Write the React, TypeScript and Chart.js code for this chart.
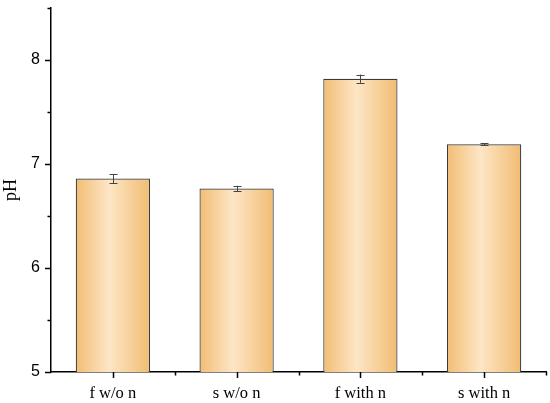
import React, { useEffect, useRef } from "react";
import { Chart, registerables } from "chart.js";

Chart.register(...registerables);

const categories = ["f w/o n", "s w/o n", "f with n", "s with n"];
const phValues = [6.86, 6.765, 7.82, 7.19];
const phErrors = [0.045, 0.025, 0.04, 0.01];
const yTicks = [5, 6, 7, 8];

const BAR_PCT = 0.6;

const tickPlugin = {
  id: "customTicks",
  afterDraw(chart: any) {
    const ctx = chart.ctx;
    const x = chart.scales.x;
    const y = chart.scales.y;
    const area = chart.chartArea;
    ctx.save();
    ctx.strokeStyle = "#000";
    ctx.lineWidth = 1.5;
    ctx.beginPath();
    for (let v = 5; v <= 8.5 + 1e-9; v += 0.5) {
      const py = Math.round(y.getPixelForValue(v)) + 0.5;
      const major = Math.abs(v - Math.round(v)) < 1e-6;
      const len = major ? 6 : 3.5;
      ctx.moveTo(area.left, py);
      ctx.lineTo(area.left - len, py);
    }
    const n = categories.length;
    for (let i = 0; i < n; i++) {
      const px = Math.round(x.getPixelForValue(i)) + 0.5;
      ctx.moveTo(px, area.bottom);
      ctx.lineTo(px, area.bottom + 6);
    }
    for (let i = 1; i <= n; i++) {
      const px = Math.round(x.getPixelForValue(i - 0.5)) + 0.5;
      ctx.moveTo(px, area.bottom);
      ctx.lineTo(px, area.bottom + 3.5);
    }
    ctx.stroke();
    ctx.restore();
  },
};

const errorPlugin = {
  id: "errorBars",
  afterDatasetsDraw(chart: any) {
    const ctx = chart.ctx;
    const x = chart.scales.x;
    const y = chart.scales.y;
    ctx.save();
    ctx.strokeStyle = "#444";
    ctx.lineWidth = 1;
    phValues.forEach((v, i) => {
      const px = Math.round(x.getPixelForValue(i)) + 0.5;
      const top = y.getPixelForValue(v + phErrors[i]);
      const bot = y.getPixelForValue(v - phErrors[i]);
      const cap = 4;
      ctx.beginPath();
      ctx.moveTo(px, top);
      ctx.lineTo(px, bot);
      ctx.moveTo(px - cap, Math.round(top) + 0.5);
      ctx.lineTo(px + cap, Math.round(top) + 0.5);
      ctx.moveTo(px - cap, Math.round(bot) + 0.5);
      ctx.lineTo(px + cap, Math.round(bot) + 0.5);
      ctx.stroke();
    });
    ctx.restore();
  },
};

export default function App() {
  const ref = useRef<HTMLCanvasElement | null>(null);

  useEffect(() => {
    document.body.style.margin = "0";
    const canvas = ref.current!;
    const chart = new Chart(canvas, {
      type: "bar",
      data: {
        labels: categories,
        datasets: [
          {
            data: phValues,
            borderColor: "#3a3a3a",
            borderWidth: 1.2,
            borderSkipped: false,
            barPercentage: BAR_PCT,
            categoryPercentage: 1,
            backgroundColor: (c: any) => {
              const ch = c.chart;
              const xs = ch.scales?.x;
              if (!xs || c.dataIndex === undefined) return "#F3C07A";
              const cx = xs.getPixelForValue(c.dataIndex);
              const w = (xs.width / categories.length) * BAR_PCT;
              const l = cx - w / 2;
              if (!isFinite(l) || !isFinite(w) || w <= 0) return "#F3C07A";
              const g = ch.ctx.createLinearGradient(l, 0, l + w, 0);
              g.addColorStop(0, "#F2BD74");
              g.addColorStop(0.45, "#FDE6C6");
              g.addColorStop(1, "#F1BC72");
              return g;
            },
          },
        ],
      },
      options: {
        responsive: false,
        animation: false,
        layout: { padding: { top: 8, right: 4, left: 0, bottom: 0 } },
        plugins: {
          legend: { display: false },
          tooltip: { enabled: false },
        },
        scales: {
          x: {
            grid: { display: false },
            border: { display: true, color: "#000", width: 1.5 },
            ticks: {
              color: "#000",
              padding: 4,
              font: { family: "'Liberation Serif', 'Times New Roman', serif", size: 16.5 },
            },
            afterFit: (s: any) => {
              s.height = 31;
            },
          },
          y: {
            min: 5,
            max: 8.5,
            grid: { display: false },
            border: { display: true, color: "#000", width: 1.5 },
            afterBuildTicks: (s: any) => {
              s.ticks = yTicks.map((v) => ({ value: v }));
            },
            ticks: {
              color: "#000",
              padding: 3,
              font: { family: "'Liberation Sans', Arial, sans-serif", size: 16 },
            },
            title: {
              display: true,
              text: "pH",
              color: "#000",
              padding: { top: 0, bottom: 0 },
              font: { family: "'Liberation Serif', 'Times New Roman', serif", size: 18 },
            },
            afterFit: (s: any) => {
              s.width = 51;
              s.paddingTop = 0;
            },
          },
        },
      },
      plugins: [tickPlugin, errorPlugin],
    });
    return () => chart.destroy();
  }, []);

  return <canvas ref={ref} width={550} height={403} style={{ display: "block" }} />;
}
